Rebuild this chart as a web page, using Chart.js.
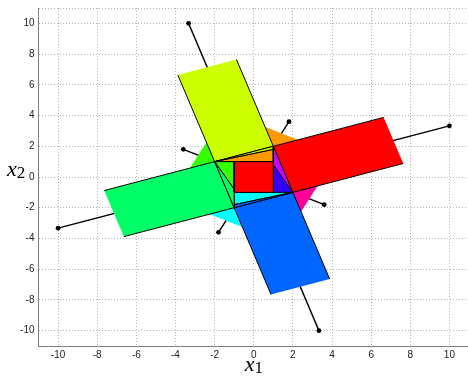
<!DOCTYPE html>
<html>
<head>
<meta charset="utf-8">
<script src="https://cdn.jsdelivr.net/npm/chart.js@4.4.1/dist/chart.umd.min.js"></script>
<style>
  body { margin: 0; background: #fff; overflow: hidden; }
  #wrap { width: 473px; height: 382px; margin-top: -2px; }
</style>
</head>
<body>
<div id="wrap"><canvas id="myChart"></canvas></div>
<script>
const xTicks = [-10, -8, -6, -4, -2, 0, 2, 4, 6, 8, 10];
const yTicks = [-10, -8, -6, -4, -2, 0, 2, 4, 6, 8, 10];
const axisMin = -11;
const axisMax = 11;

// long rays from the origin out past each side
const rayEnds = [[-3.33, 10], [10, 3.33], [3.33, -10], [-10, -3.33]];
// short rays through the corners of the tilted square
const spokeEnds = [[1.8, 3.6], [3.6, -1.8], [-1.8, -3.6], [-3.6, 1.8]];

// triangles sitting outside each corner
const orangeTri = [[1, 2], [0, 3.55], [3, 2.05]];
const pinkTri = [[2, -1], [3.55, 0], [2.05, -3]];
const cyanTri = [[-1, -2], [0, -3.55], [-3, -2.05]];
const limeTri = [[-2, 1], [-3.55, 0], [-2.05, 3]];

// rectangles on the sides (outer corner, side, side, outer corner)
const yellowRect = [[-3.88, 6.64], [-2, 1], [1, 2], [-0.88, 7.64]];
const redRect = [[6.64, 3.88], [1, 2], [2, -1], [7.64, 0.88]];
const blueRect = [[3.88, -6.64], [2, -1], [-1, -2], [0.88, -7.64]];
const greenRect = [[-6.64, -3.88], [-1, -2], [-2, 1], [-7.64, -0.88]];

// pieces between the square and the tilted square, each with a thin sliver
const topPiece = [[-2, 1], [1, 1], [1, 1.8]];
const topSliver = [[-2, 1], [1, 1.8], [1, 2]];
const rightPiece = [[1, 0.8], [1, -1], [2, -1]];
const rightSliver = [[1, 2], [1, 0.8], [2, -1]];
const bottomPiece = [[2, -1], [-1, -1], [-1, -1.8]];
const bottomSliver = [[2, -1], [-1, -1.8], [-1, -2]];
const leftPiece = [[-1, -0.8], [-1, 1], [-2, 1]];
const leftSliver = [[-1, -2], [-1, -0.8], [-2, 1]];
const centerSquare = [[-1, -1], [1, -1], [1, 1], [-1, 1]];

const toXY = pts => pts.map(p => ({x: p[0], y: p[1]}));

function ray(end) {
  return {
    data: toXY([[0, 0], end]),
    showLine: true,
    borderColor: '#000',
    borderWidth: 1.4,
    pointRadius: [0, 2.4],
    pointBackgroundColor: '#000',
    pointBorderWidth: 0
  };
}

function shape(pts, color, stroke, closed) {
  const data = closed ? pts.concat([pts[0]]) : pts;
  return {
    data: toXY(data),
    showLine: true,
    pointRadius: 0,
    borderColor: stroke ? '#000' : 'rgba(0,0,0,0)',
    borderWidth: stroke ? 1 : 0,
    polyFill: color
  };
}

// back to front
const layers = [];
rayEnds.forEach(p => layers.push(ray(p)));
spokeEnds.forEach(p => layers.push(ray(p)));
layers.push(shape(orangeTri, '#ff9900', false, true));
layers.push(shape(pinkTri, '#ff0099', false, true));
layers.push(shape(cyanTri, '#00ffff', false, true));
layers.push(shape(limeTri, '#33ff00', false, true));
layers.push(shape(yellowRect, '#ccff00', true, false));
layers.push(shape(redRect, '#ff0000', true, false));
layers.push(shape(blueRect, '#0066ff', true, false));
layers.push(shape(greenRect, '#00ff66', true, false));
layers.push(shape(topPiece, '#ff9900', true, true));
layers.push(shape(topSliver, '#ccff00', true, true));
layers.push(shape(rightPiece, '#3300ff', true, true));
layers.push(shape(rightSliver, '#cc00ff', true, true));
layers.push(shape(bottomPiece, '#00ffff', true, true));
layers.push(shape(bottomSliver, '#0066ff', true, true));
layers.push(shape(leftPiece, '#33ff00', true, true));
layers.push(shape(leftSliver, '#00ff66', true, true));
layers.push(shape(centerSquare, '#ff0000', true, true));

const polyFill = {
  id: 'polyFill',
  beforeDatasetDraw(chart, args) {
    const ds = chart.data.datasets[args.index];
    if (!ds.polyFill) return;
    const pts = args.meta.data;
    const area = chart.chartArea;
    const ctx = chart.ctx;
    ctx.save();
    ctx.beginPath();
    ctx.rect(area.left, area.top, area.right - area.left, area.bottom - area.top);
    ctx.clip();
    ctx.beginPath();
    pts.forEach((p, i) => i ? ctx.lineTo(p.x, p.y) : ctx.moveTo(p.x, p.y));
    ctx.closePath();
    ctx.fillStyle = ds.polyFill;
    ctx.fill();
    ctx.restore();
  }
};

function drawSub(ctx, base, sub, left, baseline) {
  ctx.font = 'italic 22px "Liberation Serif"';
  ctx.textAlign = 'left';
  ctx.textBaseline = 'alphabetic';
  ctx.fillText(base, left, baseline);
  const w = ctx.measureText(base).width;
  ctx.font = '17px "Liberation Serif"';
  ctx.fillText(sub, left + w, baseline + 2);
}

const axisTitles = {
  id: 'axisTitles',
  afterDraw(chart) {
    const {ctx, scales: {x, y}} = chart;
    ctx.save();
    ctx.fillStyle = '#000';
    drawSub(ctx, 'x', '1', x.getPixelForValue(0) - 9, 373);
    drawSub(ctx, 'x', '2', 7, y.getPixelForValue(0) - 1);
    ctx.restore();
  }
};

const tickFont = {family: '"Liberation Sans", Arial, sans-serif', size: 10};

const ctx = document.getElementById('myChart');
const myChart = new Chart(ctx, {
  type: 'scatter',
  data: { datasets: layers.reverse() },
  options: {
    responsive: true,
    maintainAspectRatio: false,
    animation: false,
    layout: { padding: { left: 0, top: 5, right: 0, bottom: 0 } },
    plugins: { legend: { display: false }, tooltip: { enabled: false } },
    scales: {
      x: {
        type: 'linear',
        min: axisMin,
        max: axisMax,
        afterBuildTicks: axis => {
          axis.ticks = [axisMin].concat(xTicks, [axisMax]).map(v => ({value: v}));
        },
        afterFit: axis => { axis.height = 34; },
        ticks: {
          callback: v => (v === axisMin || v === axisMax) ? '' : v,
          font: tickFont,
          color: '#222',
          padding: 3,
          maxRotation: 0,
          autoSkip: false
        },
        grid: { color: '#b4b4b4', lineWidth: 1, drawTicks: false },
        border: { color: '#808080', width: 1, dash: [1, 2] }
      },
      y: {
        type: 'linear',
        min: axisMin,
        max: axisMax,
        afterBuildTicks: axis => {
          axis.ticks = [axisMin].concat(yTicks, [axisMax]).map(v => ({value: v}));
        },
        afterFit: axis => { axis.width = 38.5; },
        ticks: {
          callback: v => (v === axisMin || v === axisMax) ? '' : v,
          font: tickFont,
          color: '#222',
          padding: 4,
          autoSkip: false
        },
        grid: { color: '#b4b4b4', lineWidth: 1, drawTicks: false },
        border: { color: '#808080', width: 1, dash: [1, 2] }
      }
    }
  },
  plugins: [polyFill, axisTitles]
});
</script>
</body>
</html>
